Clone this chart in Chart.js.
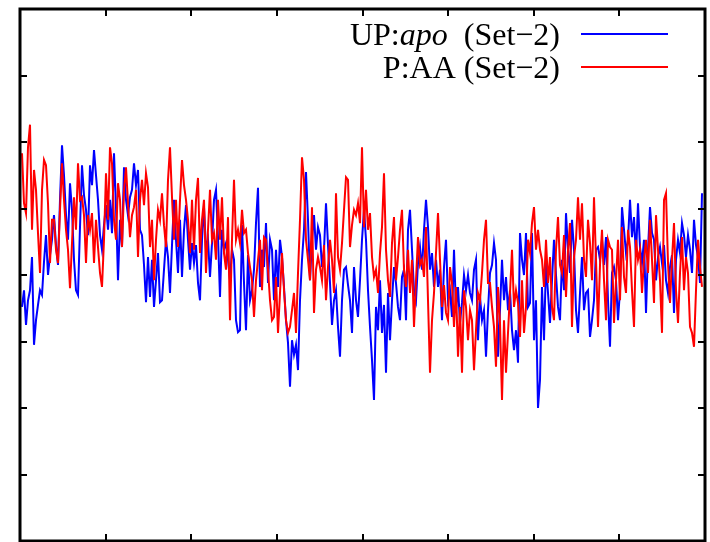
<!DOCTYPE html>
<html>
<head>
<meta charset="utf-8">
<script src="https://cdn.jsdelivr.net/npm/chart.js@4/dist/chart.umd.min.js"></script>
<style>
  html, body { margin: 0; padding: 0; background: #fff; }
  #wrap { position: relative; width: 710px; height: 542px; }
</style>
</head>
<body>
<div id="wrap"><canvas id="chart"></canvas></div>
<script>
// UP:apo (Set-2)
const upApo = [
  3.52, 3.77, 3.25, 3.62, 3.77, 4.27, 2.95, 3.32, 3.55, 3.77, 3.70, 4.20, 4.60, 4.00, 4.30, 4.53, 4.90, 4.45, 4.15, 5.13, 5.95, 5.50,
  4.90, 4.53, 5.38, 4.98, 4.23, 3.77, 3.70, 4.72, 5.65, 5.20, 4.98, 4.60, 5.65, 5.35, 5.88, 5.50, 5.13, 4.60, 4.38, 4.75, 5.05, 4.68,
  5.13, 4.63, 5.83, 5.02, 3.92, 4.83, 4.42, 5.62, 5.13, 4.90, 5.17, 5.28, 5.68, 5.35, 5.58, 4.68, 4.60, 4.15, 3.59, 4.27, 3.67,
  4.23, 3.52, 3.92, 4.33, 3.59, 3.62, 4.08, 4.53, 4.27, 3.73, 4.45, 5.13, 4.53, 4.03, 4.83, 3.97, 4.68, 5.05, 4.53, 4.08, 4.48,
  4.18, 4.45, 3.88, 3.62, 4.53, 5.02, 4.38, 4.53, 3.97, 4.48, 5.13, 5.28, 4.57, 3.67, 4.68, 4.38, 4.48, 4.23, 3.92, 4.38, 4.23, 3.32,
  3.14, 3.17, 4.75, 3.88, 3.17, 4.30, 3.62, 3.77, 4.08, 4.78, 5.31, 3.82, 4.38, 4.12, 4.78, 3.88, 4.53, 4.38, 3.62, 4.38, 3.82, 4.53,
  4.27, 3.82, 3.32, 2.98, 2.32, 3.02, 2.80, 2.95, 2.57, 3.62, 4.23, 4.68, 5.55, 4.83, 3.92, 4.53, 4.90, 4.38, 4.72, 4.60, 4.12,
  4.38, 5.08, 4.45, 3.88, 3.25, 3.62, 3.77, 3.22, 2.77, 3.62, 4.08, 4.12, 3.85, 3.62, 3.13, 4.12, 3.62, 3.37, 3.92, 4.53, 4.98,
  4.53, 3.77, 3.22, 2.72, 2.12, 3.52, 3.17, 3.92, 3.13, 3.55, 2.53, 3.73, 3.02, 3.62, 4.12, 3.88, 3.52, 3.32, 3.97, 4.08, 3.32,
  4.68, 4.98, 4.38, 3.77, 3.62, 4.18, 4.42, 4.08, 4.68, 5.13, 4.72, 4.08, 4.33, 3.82, 4.23, 3.82, 4.08, 3.32, 4.12, 4.53, 3.62,
  3.77, 3.37, 4.38, 3.47, 3.82, 3.28, 3.58, 4.00, 3.77, 4.00, 3.73, 3.62, 4.08, 4.23, 3.02, 3.67, 3.32, 3.47, 2.77, 3.47, 4.03, 4.15,
  4.48, 4.23, 2.77, 3.47, 4.23, 3.62, 3.97, 3.47, 3.77, 3.17, 2.87, 3.17, 2.68, 4.63, 4.23, 4.00, 4.63, 3.52, 3.58, 4.63, 3.02, 3.62,
  2.00, 2.42, 3.82, 3.02, 4.18, 3.73, 3.28, 3.92, 4.53, 4.00, 3.52, 3.32, 4.23, 3.77, 4.93, 4.38, 4.03, 4.83, 4.38, 3.47, 3.13,
  3.73, 4.27, 3.47, 3.73, 3.77, 3.07, 3.32, 3.62, 4.38, 4.42, 4.23, 4.53, 4.15, 4.57, 3.62, 2.92, 4.03, 4.12, 3.92, 3.32, 3.77,
  5.02, 4.68, 4.33, 4.53, 5.13, 4.57, 4.87, 4.27, 5.08, 4.42, 4.18, 4.53, 3.43, 4.38, 5.02, 4.63, 4.53, 3.92, 4.27, 4.42, 4.18,
  4.45, 3.92, 3.73, 4.12, 4.30, 3.43, 4.23, 4.53, 4.33, 4.78, 4.60, 4.27, 4.60, 4.38, 4.03, 4.83, 4.45, 4.27, 3.88, 5.23
];

// P:AA (Set-2)
const pAA = [
  5.83, 5.08, 4.93, 5.92, 6.26, 4.68, 5.58, 5.28, 4.63, 4.03, 5.28, 5.73, 5.65, 5.08, 4.18, 4.83, 4.83, 4.38, 4.18, 4.98, 5.68, 5.13,
  4.68, 4.38, 3.80, 4.48, 5.17, 4.68, 5.68, 5.13, 5.17, 4.90, 4.18, 4.90, 4.68, 4.93, 4.18, 4.83, 4.42, 4.03, 3.82, 4.53, 5.53, 4.83,
  5.92, 5.68, 4.83, 4.53, 5.38, 5.13, 4.42, 5.28, 5.62, 5.08, 4.57, 4.90, 5.02, 5.28, 4.27, 5.13, 5.43, 5.05, 5.53, 5.32, 4.42,
  4.83, 3.92, 4.53, 4.98, 4.83, 5.23, 4.75, 4.42, 5.43, 5.92, 5.17, 4.53, 5.13, 4.42, 5.13, 5.73, 5.35, 5.13, 4.83, 4.33, 5.13,
  4.38, 5.13, 5.46, 4.33, 4.83, 5.13, 4.03, 4.68, 5.28, 4.53, 4.63, 4.23, 5.13, 4.53, 5.17, 4.33, 4.08, 4.87, 3.32, 4.53, 5.43, 4.53,
  4.68, 4.48, 4.98, 4.63, 4.68, 4.33, 4.12, 3.92, 3.37, 3.92, 4.23, 4.53, 3.77, 4.57, 4.53, 4.08, 3.62, 3.32, 3.37, 3.97, 3.13, 3.73,
  4.33, 3.77, 3.32, 3.13, 3.22, 3.47, 3.73, 3.13, 4.03, 4.83, 5.77, 5.43, 4.53, 4.23, 3.92, 5.02, 3.43, 4.08, 4.27, 4.12, 3.92,
  4.45, 3.62, 4.12, 4.53, 4.23, 3.73, 5.23, 4.27, 4.08, 4.48, 4.98, 5.47, 5.43, 4.42, 4.75, 4.98, 4.90, 5.08, 4.78, 5.92, 4.72,
  5.28, 4.68, 4.93, 4.27, 3.97, 4.08, 3.73, 4.33, 4.72, 5.53, 4.38, 3.92, 3.67, 4.48, 4.87, 3.92, 4.27, 4.68, 4.98, 4.08, 3.82,
  4.38, 3.73, 4.23, 3.22, 3.92, 4.57, 4.15, 4.23, 3.97, 4.72, 3.62, 2.53, 3.32, 3.73, 4.33, 4.93, 4.23, 3.52, 3.85, 3.43, 3.32,
  4.12, 3.88, 3.22, 3.82, 2.77, 3.52, 2.53, 3.77, 3.52, 3.02, 3.47, 3.32, 2.57, 3.17, 3.73, 3.62, 4.03, 4.53, 4.83, 3.88, 3.88, 3.52,
  3.22, 2.62, 3.82, 3.28, 2.12, 3.32, 2.53, 3.13, 3.73, 4.38, 3.52, 3.77, 3.58, 3.07, 3.92, 3.13, 3.52, 4.53, 4.33, 4.78, 5.02, 4.38,
  4.68, 4.38, 4.23, 3.82, 4.53, 3.88, 4.27, 3.52, 3.32, 4.38, 4.87, 4.15, 4.03, 4.60, 3.67, 4.38, 4.78, 3.22, 4.27, 4.53, 5.17,
  4.53, 5.08, 4.23, 3.97, 4.83, 4.48, 3.92, 5.17, 4.23, 3.22, 4.15, 4.68, 3.92, 3.32, 4.53, 4.42, 4.38, 3.28, 3.92, 4.53, 3.62,
  4.72, 3.97, 3.73, 4.68, 4.42, 3.77, 3.22, 4.53, 4.23, 4.38, 3.73, 4.23, 4.53, 4.03, 4.83, 4.23, 3.58, 4.90, 4.38, 3.92, 3.13,
  5.13, 5.23, 4.18, 3.58, 4.23, 4.78, 3.77, 3.28, 4.03, 4.57, 3.77, 4.27, 4.03, 3.22, 3.13, 2.92, 3.77, 4.53, 4.12, 3.82
];

const frames = upApo.map((_, i) => i);
const yTicks = [0, 1, 2, 3, 4, 5, 6, 7, 8];
const X_MIN = -1;
const X_MAX = 341.5;
const X_DIVS = 8;

const FONT = "32px 'Liberation Serif', 'Times New Roman', serif";
const legendItems = [
  { parts: [["UP:", ""], ["apo", "italic "], [" ", ""], [" (Set\u22122)", ""]], color: "#0000ff" },
  { parts: [["P:AA (Set\u22122)", ""]], color: "#ff0000" },
];

// frame, inward ticks on all four sides, and the legend
const framePlugin = {
  id: "frame",
  afterDraw(chart) {
    const ctx = chart.ctx;
    const a = chart.chartArea;
    const xs = chart.scales.x;
    const ys = chart.scales.y;
    ctx.save();
    ctx.strokeStyle = "#000";
    ctx.lineWidth = 2;
    const tl = 7;
    for (let k = 1; k < X_DIVS; k++) {
      const px = Math.round(xs.getPixelForValue(X_MIN + k * (X_MAX - X_MIN) / X_DIVS));
      ctx.beginPath();
      ctx.moveTo(px, a.bottom); ctx.lineTo(px, a.bottom - tl);
      ctx.moveTo(px, a.top); ctx.lineTo(px, a.top + tl);
      ctx.stroke();
    }
    yTicks.slice(1, -1).forEach((v) => {
      const py = Math.round(ys.getPixelForValue(v));
      ctx.beginPath();
      ctx.moveTo(a.left, py); ctx.lineTo(a.left + tl, py);
      ctx.moveTo(a.right, py); ctx.lineTo(a.right - tl, py);
      ctx.stroke();
    });
    ctx.lineWidth = 3;
    ctx.strokeRect(a.left, a.top, a.right - a.left, a.bottom - a.top);

    // legend
    const textRight = 560;
    const sampleL = 581, sampleR = 668;
    legendItems.forEach((item, n) => {
      const base = 45 + n * 33;
      const mid = 34 + n * 33;
      let w = 0;
      item.parts.forEach(([t, st]) => {
        ctx.font = st + FONT;
        w += ctx.measureText(t).width;
      });
      let x = textRight - w;
      ctx.fillStyle = "#000";
      ctx.textBaseline = "alphabetic";
      ctx.textAlign = "left";
      item.parts.forEach(([t, st]) => {
        ctx.font = st + FONT;
        ctx.fillText(t, x, base);
        x += ctx.measureText(t).width;
      });
      ctx.strokeStyle = item.color;
      ctx.lineWidth = 2;
      ctx.beginPath();
      ctx.moveTo(sampleL, mid); ctx.lineTo(sampleR, mid);
      ctx.stroke();
    });
    ctx.restore();
  },
};

new Chart(document.getElementById("chart"), {
  type: "line",
  data: {
    labels: frames,
    datasets: [
      {
        label: "UP:apo (Set\u22122)",
        data: upApo,
        borderColor: "#0000ff",
        backgroundColor: "transparent",
        borderWidth: 2,
        pointRadius: 0,
        tension: 0,
        order: 2,
      },
      {
        label: "P:AA (Set\u22122)",
        data: pAA,
        borderColor: "#ff0000",
        backgroundColor: "transparent",
        borderWidth: 2,
        pointRadius: 0,
        tension: 0,
        order: 1,
      },
    ],
  },
  options: {
    animation: false,
    responsive: true,
    maintainAspectRatio: false,
    layout: { padding: { left: 20, right: 5, top: 9, bottom: 1 } },
    plugins: { legend: { display: false }, tooltip: { enabled: false } },
    scales: {
      x: { type: "linear", display: false, min: X_MIN, max: X_MAX },
      y: { display: false, min: yTicks[0], max: yTicks[yTicks.length - 1] },
    },
  },
  plugins: [framePlugin],
});
</script>
</body>
</html>
